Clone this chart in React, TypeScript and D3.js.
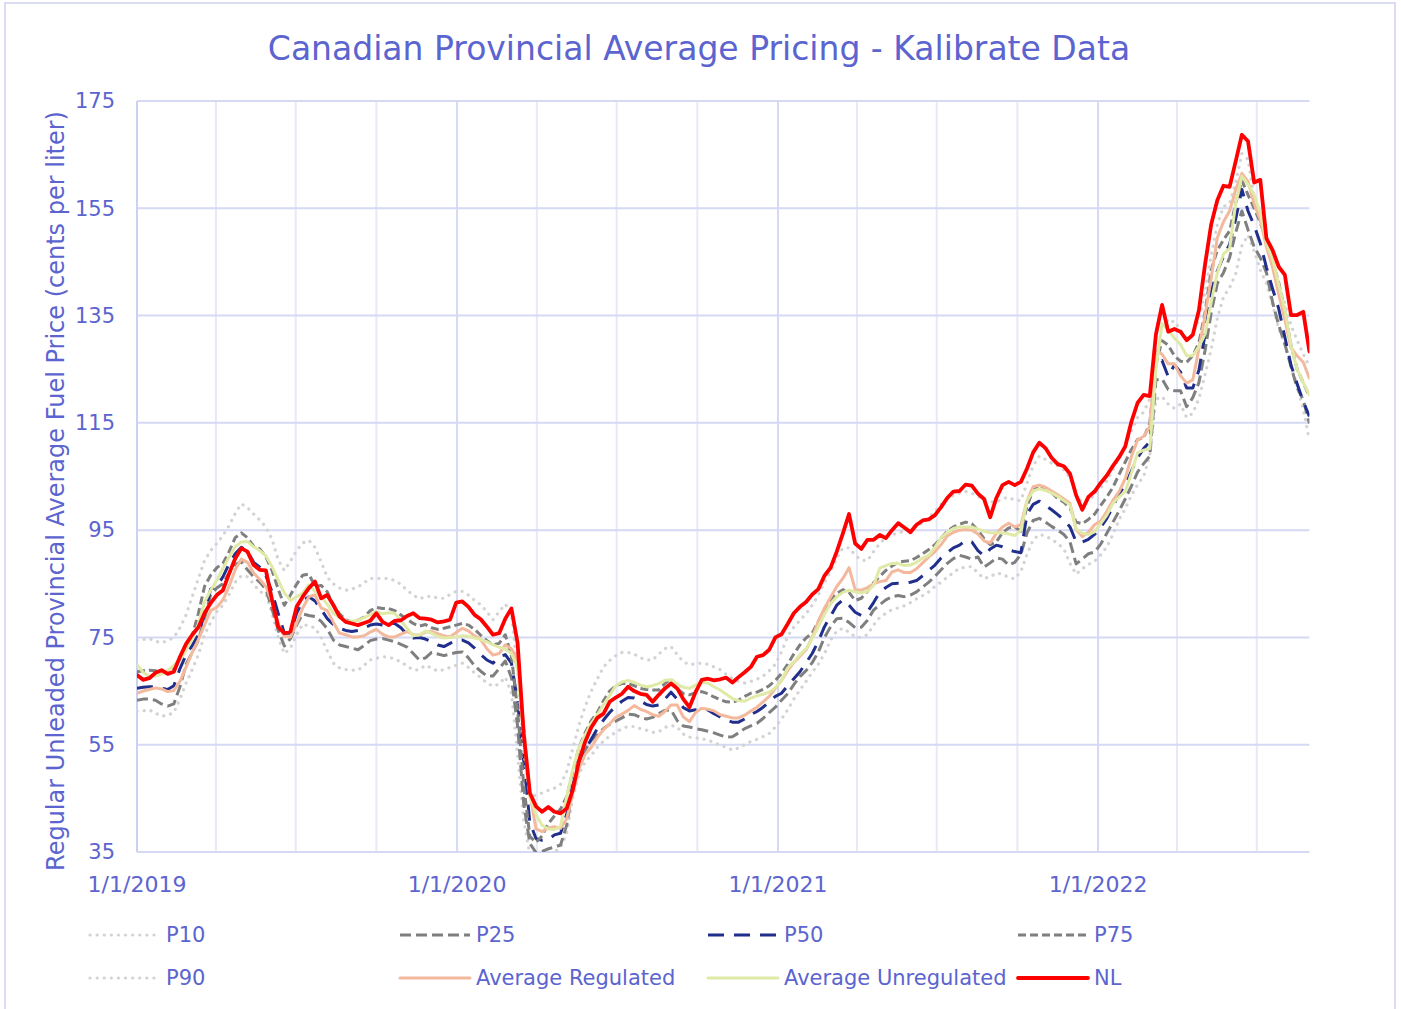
import React from 'react';
import * as d3 from 'd3';

// weekly readings, first week = 1/1/2019
const START = new Date(Date.UTC(2019, 0, 1));
const END = new Date(Date.UTC(2022, 7, 30));

const p10 = [
  61.2, 61.3, 61.5, 60.9, 60.3, 60.5, 61.0, 63.5, 66.5, 69.0, 71.8, 75.5,
  77.8, 79.8, 81.0, 83.0, 85.3, 86.5, 86.3, 85.0, 83.5, 83.2, 79.5, 75.0,
  72.0, 73.0, 75.5, 77.5, 77.1, 76.8, 75.0, 72.5, 70.2, 69.3, 69.0, 68.9,
  68.9, 69.8, 70.8, 71.1, 71.4, 71.3, 71.0, 70.4, 69.7, 68.9, 69.0, 69.8,
  69.3, 68.7, 69.0, 69.4, 69.8, 70.2, 69.4, 68.4, 67.5, 66.5, 65.9, 66.3,
  67.6, 64.6, 53.0, 41.0, 34.5, 34.1, 34.1, 34.4, 35.0, 35.8, 38.5, 45.0,
  49.5, 51.8, 53.0, 54.5, 55.7, 56.6, 57.3, 58.0, 58.4, 58.4, 58.0, 57.7,
  57.3, 57.4, 58.2, 58.6, 58.3, 57.0, 56.4, 56.3, 56.1, 55.9, 55.4, 54.9,
  54.5, 54.0, 54.4, 55.0, 55.6, 56.0, 56.5, 57.1, 58.3, 59.8, 61.5, 63.5,
  65.2, 66.8, 68.5, 70.0, 72.0, 74.5, 76.2, 76.7, 76.0, 75.1, 75.0, 75.5,
  77.3, 78.7, 79.5, 80.2, 80.5, 80.9, 81.5, 82.2, 82.8, 83.5, 84.5, 85.3,
  86.2, 87.1, 87.9, 88.1, 88.2, 87.0, 86.0, 86.3, 87.0, 86.8, 86.2, 85.9,
  87.3, 90.5, 93.2, 94.2, 93.9, 93.3, 92.5, 91.5, 88.8, 86.8, 87.8, 88.6,
  89.2, 90.4, 91.9, 94.2, 97.0, 99.0, 101.5, 103.5, 105.0, 109.0, 119.4, 119.9,
  118.5, 117.7, 118.5, 116.0, 116.8, 119.5, 124.0, 128.7, 134.5, 138.5, 140.2, 142.8,
  148.0, 150.0, 147.0, 143.5, 141.0, 137.0, 132.6, 129.5, 125.8, 122.0, 117.5, 111.8,
];

const p25 = [
  63.3, 63.5, 63.5, 63.3, 62.6, 62.2, 62.6, 65.8, 70.0, 72.2, 74.5, 78.5,
  83.0, 84.2, 85.0, 87.0, 88.6, 89.1, 87.6, 86.3, 85.3, 84.0, 80.3, 76.4,
  73.4, 74.8, 77.3, 79.4, 79.1, 78.9, 78.0, 76.6, 74.5, 73.6, 73.3, 73.0,
  72.7, 73.5, 74.4, 74.7, 74.8, 74.5, 74.2, 73.7, 73.2, 72.0, 70.8, 71.2,
  72.2, 71.9, 71.6, 71.9, 72.2, 72.3, 71.2, 69.7, 68.7, 67.8, 67.8, 69.2,
  70.6, 67.5, 58.5, 44.0, 36.6, 34.9, 35.1, 35.6, 35.9, 36.3, 40.0, 47.0,
  51.5, 54.0, 55.8, 56.9, 58.0, 58.8, 59.4, 60.0, 60.7, 60.6, 60.1, 59.8,
  60.1, 60.8, 61.4, 61.5, 59.5, 58.5, 58.3, 58.0, 57.8, 57.5, 57.2, 56.8,
  56.4, 56.5, 57.2, 58.0, 58.5, 59.0, 59.9, 61.0, 62.0, 63.3, 64.5, 66.2,
  67.7, 68.8, 70.3, 72.3, 75.0, 77.0, 78.5, 78.6, 77.8, 76.8, 76.9, 78.2,
  80.1, 81.1, 82.0, 82.6, 82.8, 82.6, 82.9, 83.5, 84.4, 85.3, 86.4, 87.6,
  88.8, 89.7, 90.3, 90.0, 89.6, 90.0, 88.1, 88.9, 89.8, 89.6, 88.5, 89.0,
  90.5, 94.5, 96.8, 97.2, 96.5, 95.7, 95.0, 94.2, 92.8, 88.7, 89.6, 90.6,
  90.9, 92.4, 94.4, 96.5, 98.6, 100.8, 103.2, 105.8, 107.4, 108.8, 123.0, 123.2,
  121.2, 121.0, 121.0, 118.0, 119.7, 122.5, 128.5, 135.5, 141.0, 143.0, 145.8, 150.5,
  154.5, 151.0, 147.8, 145.8, 143.0, 137.5, 133.2, 129.7, 125.5, 121.5, 119.3, 114.9,
];

const p50 = [
  65.5, 65.7, 65.8, 65.8, 65.5, 65.3, 66.0, 69.2, 71.8, 73.5, 75.5, 79.5,
  84.0, 84.5, 86.3, 88.7, 90.6, 91.8, 91.1, 89.0, 88.1, 86.5, 83.5, 79.5,
  75.8, 75.8, 79.5, 81.8, 82.6, 81.8, 80.2, 78.5, 77.4, 76.7, 76.3, 76.1,
  76.3, 76.8, 77.3, 77.5, 77.3, 77.6, 77.6, 76.8, 75.5, 74.9, 75.0, 74.7,
  74.2, 73.6, 73.3, 73.9, 74.5, 74.5, 74.0, 73.0, 71.8, 70.8, 70.2, 71.4,
  71.8, 70.2, 63.0, 52.0, 40.5, 37.5, 37.2, 37.3, 38.2, 38.5, 42.0, 47.5,
  51.2, 54.0, 56.0, 58.0, 59.6, 61.0, 62.2, 63.1, 63.8, 63.7, 63.2, 62.5,
  62.2, 62.4, 63.5, 64.8, 63.5, 61.9, 61.3, 61.5, 61.7, 61.5, 60.8, 60.2,
  59.6, 59.2, 59.2, 59.8, 60.6, 61.2, 62.0, 63.0, 64.0, 64.6, 66.0, 67.3,
  68.6, 70.3, 72.0, 74.3, 77.0, 79.0, 81.0, 82.0, 81.0, 79.7, 79.1, 79.8,
  81.5, 83.4, 84.3, 85.0, 85.1, 85.1, 85.3, 85.6, 86.5, 87.5, 88.5, 89.8,
  90.8, 91.7, 92.2, 93.1, 92.8, 91.2, 90.2, 91.5, 92.2, 91.9, 91.3, 91.0,
  90.8, 98.0, 99.8, 100.4, 99.6, 98.8, 97.9, 96.9, 95.6, 92.8, 92.8, 93.3,
  94.2, 95.5, 97.2, 99.4, 101.8, 103.4, 106.0, 108.5, 110.2, 111.5, 126.2, 126.6,
  123.6, 125.8, 124.5, 121.5, 121.5, 124.8, 131.5, 139.5, 143.3, 146.0, 148.3, 153.0,
  158.5, 154.5, 151.8, 148.5, 144.0, 140.0, 136.3, 131.0, 125.8, 122.3, 119.0, 116.2,
];

const p75 = [
  68.6, 68.8, 68.9, 68.8, 68.6, 68.6, 69.2, 71.0, 73.2, 75.3, 79.5, 84.5,
  86.6, 88.0, 88.8, 91.0, 93.6, 94.5, 93.6, 92.0, 91.5, 90.0, 87.5, 84.0,
  81.0, 82.9, 84.9, 86.6, 86.8, 84.5, 84.7, 83.5, 81.0, 79.4, 78.3, 77.9,
  78.2, 78.8, 80.0, 80.6, 80.4, 80.4, 80.0, 79.2, 78.4, 77.6, 77.1, 77.4,
  76.8, 76.5, 76.7, 77.0, 77.3, 77.6, 77.3, 76.5, 75.4, 74.4, 73.6, 73.9,
  75.5, 71.5, 61.5, 47.5, 37.9, 36.8, 38.0, 40.3, 41.7, 43.0, 45.3, 50.0,
  54.5, 57.2, 59.5, 61.0, 63.2, 65.0, 66.0, 66.4, 66.4, 66.0, 65.5, 65.3,
  65.2, 65.2, 66.4, 67.3, 65.5, 64.5, 64.3, 64.7, 64.9, 64.5, 63.9, 63.4,
  63.0, 62.9, 63.3, 64.0, 64.6, 64.8, 65.3, 66.0, 67.0, 68.3, 70.0, 71.9,
  73.6, 74.9, 75.8, 78.0, 80.2, 82.0, 83.2, 83.9, 83.4, 81.9, 82.3, 83.6,
  85.2, 86.4, 87.5, 88.3, 89.0, 89.2, 89.3, 89.9, 90.6, 91.4, 92.3, 93.5,
  94.8, 95.6, 96.1, 96.5, 96.2, 95.0, 93.4, 92.3, 92.8, 94.5, 95.4, 95.6,
  94.8, 99.5, 102.5, 103.3, 102.7, 102.0, 100.9, 100.2, 99.1, 96.5, 96.2, 97.0,
  98.0, 99.6, 101.2, 103.0, 105.4, 107.7, 110.0, 111.9, 112.2, 115.0, 126.0, 130.3,
  129.5, 127.5, 126.5, 126.3, 127.5, 130.0, 135.5, 143.5, 147.2, 149.1, 150.8, 156.0,
  160.2, 157.5, 155.0, 152.3, 149.1, 145.0, 141.2, 135.8, 129.5, 125.0, 122.5, 119.9,
];

const p90 = [
  74.5, 74.6, 74.8, 74.3, 74.0, 74.4, 75.0, 76.8, 79.2, 82.6, 86.0, 89.3,
  91.2, 92.5, 94.0, 95.8, 98.1, 99.9, 99.2, 98.0, 96.9, 95.6, 93.3, 89.5,
  87.5, 89.2, 91.2, 92.6, 93.1, 91.8, 89.1, 86.2, 85.0, 84.2, 83.8, 84.0,
  84.4, 85.2, 86.0, 86.0, 86.0, 86.0, 85.6, 84.9, 83.8, 82.9, 82.2, 82.6,
  82.7, 82.3, 82.3, 83.0, 83.6, 83.6, 82.9, 81.9, 81.1, 79.8, 78.3, 79.8,
  81.2, 79.5, 68.5, 54.0, 45.3, 45.6, 46.0, 46.5, 46.9, 47.6, 50.0, 54.3,
  58.6, 62.1, 65.0, 67.3, 69.5, 70.7, 71.6, 72.2, 72.2, 71.9, 71.2, 70.8,
  70.8, 71.9, 72.9, 73.3, 71.8, 70.5, 69.9, 70.1, 70.2, 70.0, 69.5, 69.0,
  68.1, 67.3, 66.8, 66.5, 66.8, 67.2, 67.8, 68.8, 70.0, 72.3, 75.2, 76.9,
  78.2, 79.4, 81.0, 82.9, 85.3, 87.3, 89.8, 91.7, 91.7, 90.3, 89.4, 89.3,
  91.0, 92.5, 93.7, 94.2, 94.4, 94.9, 95.4, 95.9, 96.3, 97.3, 98.5, 99.8,
  100.7, 101.5, 101.9, 102.2, 101.9, 101.3, 100.7, 100.3, 100.2, 100.9, 101.1, 100.6,
  100.5, 103.8, 107.0, 108.8, 108.2, 107.5, 107.0, 106.2, 104.8, 101.5, 100.2, 100.5,
  101.6, 102.9, 104.2, 106.3, 108.6, 110.8, 113.5, 116.0, 117.0, 119.5, 132.0, 137.0,
  133.6, 134.0, 132.3, 130.8, 131.5, 134.2, 139.3, 146.2, 152.0, 155.3, 155.9, 159.8,
  165.2, 164.1, 157.0, 154.2, 149.0, 144.4, 140.5, 137.3, 133.2, 130.4, 127.8, 125.5,
];

const avgRegulated = [
  64.6, 65.0, 65.3, 65.6, 65.4, 64.9, 65.1, 66.8, 69.5, 72.2, 74.6, 77.3,
  80.0, 80.6, 82.0, 84.5, 87.6, 89.6, 89.0, 87.0, 85.8, 84.5, 81.6, 77.6,
  75.2, 75.1, 77.6, 80.5, 82.6, 82.9, 80.5, 80.0, 77.8, 75.8, 75.5, 75.1,
  75.1, 75.3, 76.0, 76.5, 75.6, 75.1, 75.1, 75.6, 76.1, 75.5, 75.4, 76.0,
  76.1, 75.7, 75.3, 75.1, 75.9, 76.7, 76.2, 75.3, 74.6, 72.9, 71.7, 72.0,
  73.6, 72.9, 70.8, 58.5, 46.0, 39.3, 38.8, 39.5, 39.7, 39.4, 41.2, 46.0,
  50.5, 53.2, 54.5, 56.4, 57.8, 58.9, 60.1, 60.7, 61.4, 62.3, 61.6, 61.2,
  60.6, 60.3, 61.2, 62.4, 62.4, 60.2, 59.3, 61.0, 61.8, 61.6, 61.3, 60.6,
  60.3, 60.0, 60.0, 60.5, 61.3, 62.0, 63.0, 64.0, 65.5, 67.0, 68.8, 70.3,
  71.5, 72.7, 75.0, 78.0, 80.5, 82.5, 84.5, 86.0, 88.0, 83.9, 83.8, 84.3,
  85.0, 85.4, 85.6, 87.2, 87.6, 87.1, 87.1, 87.8, 88.9, 90.0, 91.0, 92.3,
  93.9, 94.6, 95.0, 95.1, 95.0, 94.3, 93.0, 92.6, 94.4, 95.6, 96.3, 95.6,
  96.0, 100.5, 103.1, 103.4, 103.0, 102.3, 101.6, 100.8, 100.0, 95.1, 93.8, 94.6,
  96.0, 96.7, 98.5, 100.6, 102.2, 104.6, 108.7, 111.8, 112.5, 114.3, 128.5, 127.8,
  126.0, 126.0, 123.8, 122.4, 123.0, 128.8, 135.0, 142.0, 149.5, 152.5, 154.5, 158.5,
  161.5, 160.0, 155.8, 152.8, 147.8, 144.0, 139.0, 134.3, 129.0, 127.5, 126.3, 123.3,
];

const avgUnregulated = [
  69.9, 68.5, 67.7, 67.8, 68.2, 68.8, 69.8, 70.8, 72.6, 74.8, 77.5, 81.6,
  83.8, 85.6, 87.9, 90.0, 91.9, 92.8, 92.9, 91.9, 91.2, 90.2, 88.2, 85.7,
  83.3, 81.9, 82.6, 83.3, 84.8, 83.6, 82.6, 81.2, 79.5, 78.7, 78.1, 78.0,
  78.2, 78.7, 79.2, 79.8, 79.4, 79.6, 79.5, 78.1, 76.7, 75.3, 75.5, 76.2,
  75.8, 75.2, 74.9, 75.0, 75.1, 75.3, 75.2, 74.9, 74.6, 74.2, 73.6, 73.2,
  72.8, 72.0, 69.3, 56.5, 45.3, 42.0, 40.0, 39.3, 39.2, 39.8, 45.3, 50.4,
  54.5, 56.8, 59.0, 60.6, 62.5, 64.2, 66.0, 66.7, 67.0, 66.6, 66.1, 65.8,
  66.0, 66.4, 67.0, 67.1, 66.3, 65.7, 65.5, 66.1, 66.6, 66.5, 65.8, 65.2,
  64.4, 63.6, 63.2, 63.1, 63.7, 64.1, 64.4, 64.8, 65.6, 67.0, 69.3, 70.4,
  71.8, 72.9, 74.8, 77.0, 79.3, 81.3, 82.6, 83.4, 83.8, 83.5, 83.3, 83.6,
  84.7, 87.9, 88.4, 88.8, 88.8, 88.4, 88.5, 89.0, 89.8, 90.3, 91.8, 93.6,
  94.6, 95.3, 95.6, 95.6, 95.6, 95.2, 94.8, 94.5, 94.5, 94.5, 94.3, 94.0,
  95.0, 100.5, 102.3, 102.7, 102.4, 101.9, 101.3, 100.5, 99.7, 95.2, 94.4, 94.2,
  94.7, 96.2, 97.8, 100.0, 101.2, 102.2, 105.6, 109.4, 109.9, 110.2, 125.0, 133.5,
  132.3, 130.8, 129.6, 127.5, 127.5, 129.2, 131.5, 137.5, 143.0, 146.5, 147.5, 156.0,
  161.0, 159.4, 157.5, 154.1, 148.5, 145.5, 140.8, 136.0, 129.5, 125.0, 122.5, 120.2,
];

const nl = [
  68.0, 67.1, 67.4, 68.4, 68.9, 68.2, 68.6, 71.4, 73.8, 75.5, 76.9, 79.5,
  81.4, 82.9, 83.8, 86.9, 89.7, 91.6, 91.0, 88.5, 87.6, 87.5, 82.0, 77.0,
  75.8, 76.1, 80.7, 82.6, 84.2, 85.4, 82.3, 82.9, 81.0, 78.9, 77.9, 77.6,
  77.3, 77.7, 78.1, 79.5, 77.9, 77.3, 78.1, 78.2, 79.0, 79.5, 78.6, 78.5,
  78.3, 77.8, 78.0, 78.3, 81.5, 81.7, 80.7, 79.2, 78.4, 77.0, 75.5, 75.8,
  78.5, 80.4, 74.0, 57.0, 46.0, 43.5, 42.5, 43.4, 42.5, 42.2, 43.1, 46.6,
  52.0, 55.5, 58.2, 60.0, 60.8, 63.0, 63.8, 64.5, 65.8, 65.0, 64.5, 64.3,
  63.0, 64.3, 65.5, 66.4, 65.5, 63.5, 62.0, 64.8, 67.1, 67.3, 67.0, 67.2,
  67.5, 66.6, 67.6, 68.5, 69.5, 71.4, 71.7, 72.7, 75.0, 75.6, 77.5, 79.5,
  80.7, 81.6, 83.0, 84.0, 86.5, 88.0, 91.0, 94.4, 98.0, 92.5, 91.5, 93.2,
  93.2, 94.1, 93.5, 95.0, 96.3, 95.5, 94.6, 96.0, 96.8, 97.0, 97.8, 99.3,
  101.0, 102.2, 102.3, 103.5, 103.3, 101.8, 100.8, 97.4, 101.0, 103.4, 104.0, 103.4,
  104.0, 106.5, 109.5, 111.3, 110.3, 108.5, 107.3, 106.9, 105.5, 101.5, 98.8, 101.2,
  102.2, 103.8, 105.2, 107.0, 108.6, 110.6, 115.2, 118.7, 120.2, 120.0, 131.5, 137.0,
  132.0, 132.5, 132.0, 130.4, 131.4, 136.0, 144.5, 152.0, 156.5, 159.2, 159.0, 163.8,
  168.7, 167.5, 159.8, 160.3, 149.4, 147.2, 144.1, 142.6, 135.1, 135.1, 135.7, 128.3,
];

const yTicks = [35, 55, 75, 95, 115, 135, 155, 175];

const TEXT = '#5b64cf';
const FONT = '"DejaVu Sans", Verdana, sans-serif';

const series = [
  { name: 'P10', values: p10, color: '#d3d3d3', width: 3.2, dash: '0.1 7', cap: 'round' },
  { name: 'P25', values: p25, color: '#7f7f7f', width: 3, dash: '11 5', cap: 'butt' },
  { name: 'P50', values: p50, color: '#202f8c', width: 3, dash: '16 10', cap: 'butt' },
  { name: 'P75', values: p75, color: '#7f7f7f', width: 3, dash: '8 4', cap: 'butt' },
  { name: 'P90', values: p90, color: '#d3d3d3', width: 3.2, dash: '0.1 7', cap: 'round' },
  { name: 'Average Regulated', values: avgRegulated, color: '#f4b89c', width: 3, dash: null, cap: 'round' },
  { name: 'Average Unregulated', values: avgUnregulated, color: '#e0eaa6', width: 3, dash: null, cap: 'round' },
  { name: 'NL', values: nl, color: '#ff0000', width: 3.8, dash: null, cap: 'round' },
];

const legendX = [90, 400, 708, 1018];
const legendY = [935, 978];

export default function App() {
  const left = 137;
  const right = 1309.4;
  const top = 101;
  const bottom = 852;

  const x = d3.scaleUtc().domain([START, END]).range([left, right]);
  const y = d3.scaleLinear().domain([35, 175]).range([bottom, top]);

  const weekDate = (i: number) => d3.utcDay.offset(START, 7 * i);
  const years = d3.utcYear.range(START, END);
  const quarters = d3.utcMonth.every(3)!.range(START, END).filter((d) => d.getUTCMonth() !== 0);
  const fmt = d3.utcFormat('%-m/%-d/%Y');

  const line = d3
    .line<number>()
    .x((_, i) => x(weekDate(i)))
    .y((d) => y(d));

  return (
    <svg
      width={1401}
      height={1009}
      style={{ position: 'absolute', left: 0, top: 0, background: '#fff' }}
      fontFamily={FONT}
    >
      <rect x={0} y={0} width={1401} height={1009} fill="#fff" />
      <rect x={5} y={3} width={1390} height={1030} fill="none" stroke="#d9dcf3" strokeWidth={2} />

      <defs>
        <clipPath id="plot">
          <rect x={left} y={top - 4} width={right - left} height={bottom - top + 4} />
        </clipPath>
      </defs>

      <text x={699} y={60} textAnchor="middle" fontSize={33} fill={TEXT}>
        Canadian Provincial Average Pricing - Kalibrate Data
      </text>

      {/* grid */}
      {quarters.map((d) => (
        <line key={'q' + d.getTime()} x1={x(d)} x2={x(d)} y1={top} y2={bottom} stroke="#e7e9f7" strokeWidth={2} />
      ))}
      {years.map((d) => (
        <line key={'y' + d.getTime()} x1={x(d)} x2={x(d)} y1={top} y2={bottom} stroke="#d5d9f3" strokeWidth={2} />
      ))}
      {yTicks.map((t) => (
        <line key={'h' + t} x1={left} x2={right} y1={y(t)} y2={y(t)} stroke="#d5d9f3" strokeWidth={2} />
      ))}
      <line x1={left} x2={left} y1={top} y2={bottom} stroke="#cdd1f1" strokeWidth={2} />

      {/* axis labels */}
      {yTicks.map((t) => (
        <text key={'yl' + t} x={115} y={y(t)} dy="0.35em" textAnchor="end" fontSize={21} fill={TEXT}>
          {t}
        </text>
      ))}
      {years.map((d) => (
        <text key={'xl' + d.getTime()} x={x(d)} y={892} textAnchor="middle" fontSize={22} fill={TEXT}>
          {fmt(d)}
        </text>
      ))}
      <text
        transform={`translate(64, 491) rotate(-90)`}
        textAnchor="middle"
        fontSize={24}
        fill={TEXT}
      >
        Regular Unleaded Provincial Average Fuel Price (cents per liter)
      </text>

      {/* series */}
      <g clipPath="url(#plot)">
        {series.map((s) => (
          <path
            key={s.name}
            d={line(s.values) ?? ''}
            fill="none"
            stroke={s.color}
            strokeWidth={s.width}
            strokeDasharray={s.dash ?? undefined}
            strokeLinecap={s.cap as any}
            strokeLinejoin="round"
          />
        ))}
      </g>

      {/* legend */}
      {series.map((s, i) => {
        const lx = legendX[i % 4];
        const ly = legendY[Math.floor(i / 4)];
        return (
          <g key={'lg' + s.name}>
            <line
              x1={lx}
              x2={lx + 70}
              y1={ly}
              y2={ly}
              stroke={s.color}
              strokeWidth={s.width}
              strokeDasharray={s.dash ?? undefined}
              strokeLinecap={s.cap as any}
            />
            <text x={lx + 76} y={ly} dy="0.35em" fontSize={21} fill={TEXT}>
              {s.name}
            </text>
          </g>
        );
      })}
    </svg>
  );
}
